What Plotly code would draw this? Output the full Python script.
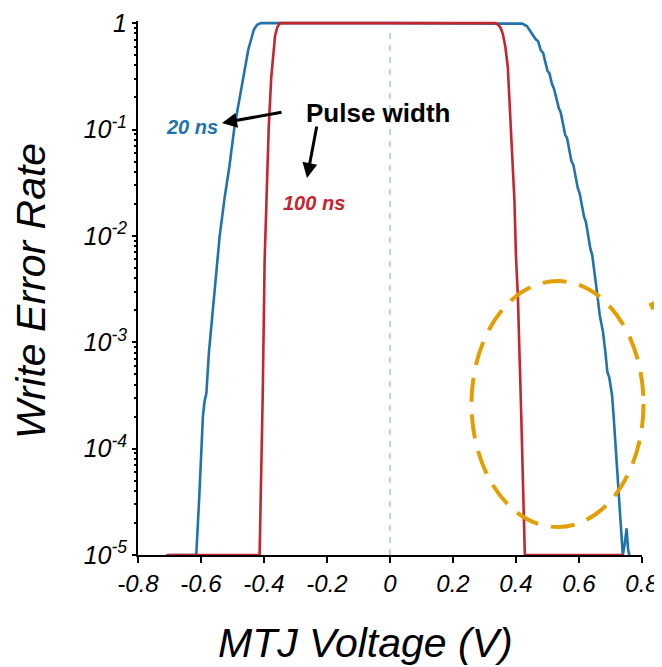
import plotly.graph_objects as go

# ---- data ----
# 20 ns pulse (blue)
v20 = [-0.700, -0.615, -0.605, -0.598, -0.594, -0.589, -0.583, -0.575, -0.563, -0.552,
       -0.541, -0.525, -0.510, -0.494, -0.478, -0.462, -0.450, -0.441, -0.432, -0.422,
       -0.410, 0.000, 0.405, 0.420, 0.435, 0.447, 0.455, 0.462, 0.470, 0.478, 0.486,
       0.494, 0.500, 0.506, 0.514, 0.521, 0.528, 0.536, 0.542, 0.549, 0.556, 0.562,
       0.569, 0.576, 0.582, 0.589, 0.596, 0.602, 0.609, 0.616, 0.622, 0.629, 0.636,
       0.642, 0.650, 0.658, 0.666, 0.676, 0.684, 0.690, 0.696, 0.705, 0.710, 0.716,
       0.722, 0.729, 0.734, 0.739, 0.745, 0.751, 0.756, 0.760]
logwer20 = [-5.0, -5.0, -4.42, -3.90, -3.70, -3.56, -3.48, -3.10, -2.70, -2.32,
            -2.01, -1.64, -1.35, -0.98, -0.73, -0.45, -0.25, -0.15, -0.06, -0.015,
            0.0, 0.0, 0.0, -0.005, -0.03, -0.08, -0.12, -0.15, -0.17, -0.25, -0.28,
            -0.38, -0.45, -0.47, -0.57, -0.62, -0.70, -0.80, -0.84, -0.95, -1.05, -1.08,
            -1.20, -1.30, -1.33, -1.45, -1.55, -1.60, -1.72, -1.82, -1.87, -2.00, -2.12,
            -2.18, -2.35, -2.55, -2.75, -2.90, -3.10, -3.28, -3.33, -3.50, -3.70, -3.95,
            -4.20, -4.50, -4.75, -5.00, -4.90, -4.75, -4.95, -5.0]
wer20 = [10 ** v for v in logwer20]

# 100 ns pulse (red)
v100 = [-0.710, -0.414, -0.404, -0.398, -0.393, -0.390, -0.385, -0.377, -0.370, -0.365,
        -0.358, -0.350, 0.000, 0.335, 0.345, 0.352, 0.358, 0.366, 0.374, 0.385,
        0.395, 0.400, 0.406, 0.4165, 0.423, 0.428, 0.740]
logwer100 = [-5.0, -5.0, -3.48, -2.23, -1.75, -1.45, -0.98, -0.51, -0.25, -0.12,
             -0.04, 0.0, 0.0, 0.0, -0.02, -0.05, -0.10, -0.22, -0.415, -1.04,
             -1.667, -2.20, -2.575, -3.67, -4.40, -5.0, -5.0]
wer100 = [10 ** v for v in logwer100]

x_ticks = [-0.8, -0.6, -0.4, -0.2, 0, 0.2, 0.4, 0.6, 0.8]
x_ticktext = ["-0.8", "-0.6", "-0.4", "-0.2", "0", "0.2", "0.4", "0.6", "0.8"]
y_ticks = [1e-5, 1e-4, 1e-3, 1e-2, 1e-1, 1]
y_ticktext = ["10<sup>-5</sup>", "10<sup>-4</sup>", "10<sup>-3</sup>",
              "10<sup>-2</sup>", "10<sup>-1</sup>", "1"]

BLUE = "#2272ad"
RED = "#c4262f"
ORANGE = "#E39E00"
SANS = "Liberation Sans, Arial, sans-serif"

# ---- figure geometry (page body adds an 8 px offset) ----
OFF = 8
W, H = 654, 659
ML, MR, MT, MB = 130, 20, 13, 112
PW, PH = W - ML - MR, H - MT - MB


def px(x):
    """screen pixel x -> paper x"""
    return (x - OFF - ML) / PW


def py(y):
    """screen pixel y -> paper y"""
    return (H - MB - (y - OFF)) / PH


fig = go.Figure()
fig.add_trace(go.Scatter(x=v20, y=wer20, mode="lines", name="20 ns",
                         line=dict(color=BLUE, width=2.6)))
fig.add_trace(go.Scatter(x=v100, y=wer100, mode="lines", name="100 ns",
                         line=dict(color=RED, width=2.6)))

# dashed centre line at 0 V
fig.add_shape(type="line", xref="x", yref="paper", x0=0, x1=0, y0=0, y1=py(28),
              line=dict(color="#8cbfa6", width=1.2, dash="6px,6px"), layer="below")

# orange dashed ellipse
fig.add_shape(type="circle", xref="paper", yref="paper",
              x0=px(471.5), x1=px(643.5), y0=py(527), y1=py(281),
              line=dict(color=ORANGE, width=4, dash="24px,13px"))
# thick orange stroke leaving to the upper right
fig.add_shape(type="line", xref="paper", yref="paper",
              x0=px(650), y0=py(307), x1=px(664), y1=py(300),
              line=dict(color=ORANGE, width=7))

# labels
fig.add_annotation(xref="paper", yref="paper", x=px(192), y=py(127), text="<b><i>20 ns</i></b>",
                   xanchor="center", yanchor="middle",
                   showarrow=False, font=dict(family=SANS, size=20, color=BLUE))
fig.add_annotation(xref="paper", yref="paper", x=px(314), y=py(203), text="<b><i>100 ns</i></b>",
                   xanchor="center", yanchor="middle",
                   showarrow=False, font=dict(family=SANS, size=20, color=RED))
fig.add_annotation(xref="paper", yref="paper", x=px(378), y=py(113), text="<b>Pulse width</b>",
                   xanchor="center", yanchor="middle",
                   showarrow=False, font=dict(family=SANS, size=26, color="black"))
# arrows
fig.add_annotation(xref="paper", yref="paper", x=px(222), y=py(123), ax=61, ay=-11,
                   text="", showarrow=True, arrowhead=2, arrowsize=1, arrowwidth=3,
                   arrowcolor="black", standoff=0)
fig.add_annotation(xref="paper", yref="paper", x=px(307), y=py(178), ax=10, ay=-53,
                   text="", showarrow=True, arrowhead=2, arrowsize=1, arrowwidth=3,
                   arrowcolor="black", standoff=0)

# axis titles
fig.add_annotation(xref="paper", yref="paper", x=px(31), y=py(291), text="<i>Write Error Rate</i>",
                   xanchor="center", yanchor="middle",
                   textangle=-90, showarrow=False, font=dict(family=SANS, size=41, color="black"))
fig.add_annotation(xref="paper", yref="paper", x=px(365), y=py(643), text="<i>MTJ Voltage (V)</i>",
                   xanchor="center", yanchor="middle",
                   showarrow=False, font=dict(family=SANS, size=41, color="black"))

fig.update_layout(
    width=W, height=H,
    margin=dict(l=ML, r=MR, t=MT, b=MB, autoexpand=False),
    paper_bgcolor="white", plot_bgcolor="white",
    showlegend=False,
    xaxis=dict(range=[-0.8, 0.8], tickmode="array", tickvals=x_ticks, ticktext=x_ticktext,
               showgrid=False, zeroline=False, showline=True, linecolor="black", linewidth=2,
               ticks="outside", ticklen=6, tickwidth=2, tickcolor="black",
               tickfont=dict(family=SANS, size=24, color="black", style="italic"),
               layer="below traces", automargin=False),
    yaxis=dict(type="log", range=[-5, 0.02], tickmode="array", tickvals=y_ticks,
               ticktext=y_ticktext, showgrid=False, zeroline=False, showline=True,
               linecolor="black", linewidth=2, ticks="outside", ticklen=4, tickwidth=2,
               tickcolor="black",
               tickfont=dict(family=SANS, size=25, color="black", style="italic"),
               minor=dict(ticks="outside", ticklen=2, tickwidth=1.5, tickcolor="black",
                          dtick="D1", showgrid=False),
               layer="below traces", automargin=False),
)

fig.write_html("out.html")
